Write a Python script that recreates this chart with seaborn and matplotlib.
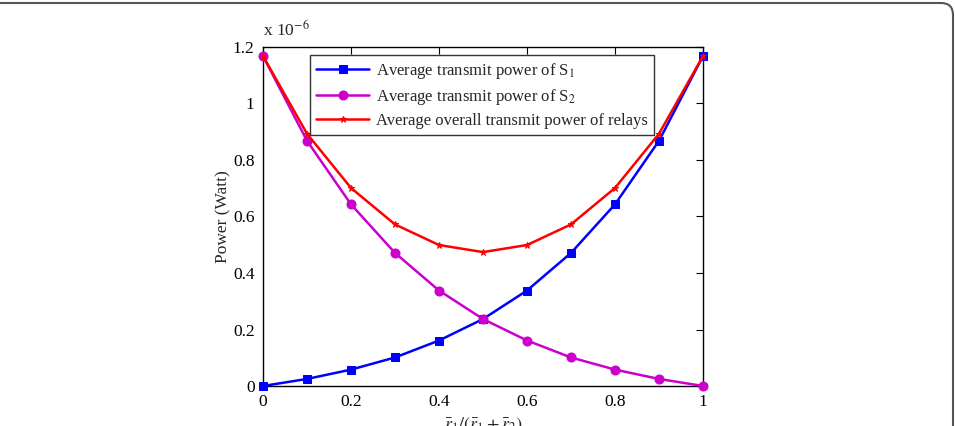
import matplotlib
matplotlib.use("Agg")
import matplotlib.pyplot as plt
import seaborn as sns
import pandas as pd
from matplotlib.patches import FancyBboxPatch

ratio = [0.0, 0.1, 0.2, 0.3, 0.4, 0.5, 0.6, 0.7, 0.8, 0.9, 1.0]
power_s1 = [0.0, 0.025, 0.058, 0.101, 0.161, 0.237, 0.338, 0.471, 0.643, 0.868, 1.168]
power_s2 = [1.168, 0.868, 0.643, 0.471, 0.338, 0.237, 0.161, 0.101, 0.058, 0.025, 0.0]
power_relays = [1.168, 0.893, 0.701, 0.572, 0.499, 0.474, 0.499, 0.572, 0.701, 0.893, 1.168]
scale = 1e-6

labels = ["Average transmit power of S$_1$",
          "Average transmit power of S$_2$",
          "Average overall transmit power of relays"]

sns.set_theme(style="white")
plt.rcParams['font.family'] = ['Liberation Serif', 'DejaVu Serif']
plt.rcParams['mathtext.fontset'] = 'stix'

fig = plt.figure(figsize=(9.55, 4.26), dpi=100)
ax = fig.add_axes([263/955, 40/426, 440/955, 339/426])

df = pd.DataFrame({
    "ratio": ratio * 3,
    "power": [v * scale for v in power_s1 + power_s2 + power_relays],
    "series": [labels[0]] * 11 + [labels[1]] * 11 + [labels[2]] * 11,
})

styles = [dict(color="#0000ff", marker="s", ms=5.5),
          dict(color="#cc00cc", marker="o", ms=6.5),
          dict(color="#ff0000", marker="*", ms=5)]
for lab, st in zip(labels, styles):
    sub = df[df.series == lab]
    sns.lineplot(data=sub, x="ratio", y="power", ax=ax, color=st["color"],
                 marker=st["marker"], markersize=st["ms"], markeredgecolor=st["color"],
                 lw=1.8, label=lab, clip_on=False, zorder=3)

ax.set_xlim(0, 1)
ax.set_ylim(0, 1.2e-6)
ax.set_xticks([0, 0.2, 0.4, 0.6, 0.8, 1.0])
ax.set_xticklabels(["0", "0.2", "0.4", "0.6", "0.8", "1"])
ax.set_yticks([0, 0.2e-6, 0.4e-6, 0.6e-6, 0.8e-6, 1.0e-6, 1.2e-6])
ax.set_yticklabels(["0", "0.2", "0.4", "0.6", "0.8", "1", "1.2"])
ax.tick_params(direction="in", length=5, width=0.8, top=True, right=True,
               labelsize=12.5, colors="black", pad=6)
for s in ax.spines.values():
    s.set_color("black")
    s.set_linewidth(1.0)
ax.set_xlabel(r"$\bar{r}_1/(\bar{r}_1+\bar{r}_2)$", fontsize=13, labelpad=4)
ax.set_ylabel("Power (Watt)", fontsize=12.5, labelpad=1)
ax.text(0.0, 1.02, r"x 10$^{-6}$", transform=ax.transAxes, fontsize=12.5, ha="left", va="bottom")

leg = ax.legend(loc="upper left", bbox_to_anchor=(0.107, 0.975), borderaxespad=0,
                frameon=True, fancybox=False, fontsize=12, handlelength=3.2,
                handletextpad=0.4, labelspacing=0.35, borderpad=0.35)
leg.get_frame().set_edgecolor("black")
leg.get_frame().set_linewidth(1.0)

frame = FancyBboxPatch((-30, -30), 983, 453, boxstyle="round,pad=0,rounding_size=12",
                       transform=None, fill=False, edgecolor="#555555", linewidth=1.5,
                       figure=fig)
fig.patches.append(frame)

fig.savefig("out.png", dpi=100)
